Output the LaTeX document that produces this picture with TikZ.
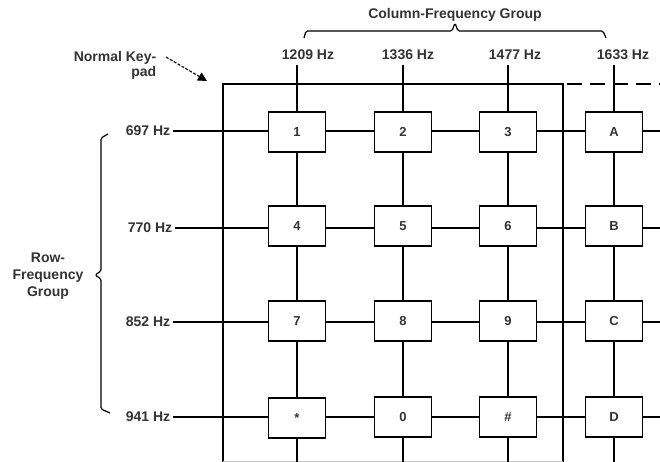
\documentclass[tikz,border=0pt]{standalone}
\usepackage{fontspec}
\setmainfont{Liberation Sans}
\usetikzlibrary{arrows.meta}
\begin{document}
\begin{tikzpicture}[x=1pt,y=-1pt,line width=1.5pt,
  lbl/.style={font=\fontsize{14}{15}\selectfont\bfseries,text=black!80,inner sep=0pt},
  rowlbl/.style={lbl,anchor=east,inner xsep=2pt},
  key/.style={draw,line width=1.5pt,minimum width=57pt,minimum height=40pt,inner sep=0pt,fill=white,
    font=\fontsize{13}{13}\selectfont\bfseries,text=black!80},
  wire/.style={line width=1.5pt},
  brace/.style={line width=1.2pt,rounded corners=1.5pt}]
\useasboundingbox (0,0) rectangle (660,462);

% titles
\node[lbl] (cfg) at (455,15) {Column-Frequency Group};
\node[lbl,align=center,font=\fontsize{14}{17}\selectfont\bfseries] (rfg) at (48,276) {Row-\\Frequency\\Group};
\node[lbl,align=right,anchor=east] (nk) at (157,65.5) {Normal Key-\\pad};

% braces
\draw[brace] (304,38) -- (306,31) -- (452,31) -- (455,23) -- (458,31) -- (603,31) -- (606,38);
\draw[brace] (108,134) -- (101,138) -- (101,271) -- (95,275) -- (101,279) -- (101,409) -- (110,413);

% arrow
\coordinate (as) at (166,57);
\coordinate (ae) at (207,81);
\draw[line width=1.1pt,dash pattern=on 3pt off 1.5pt,-{Triangle[length=9pt,width=9pt]}] (as) -- (ae);

% keypad outline
\draw[wire] (223,470) -- (223,84) -- (563,84) -- (563,470);
\draw[wire,dash pattern=on 15pt off 8pt] (567,84) -- (662,84);
\draw[black!22,line width=1pt] (223,461) -- (563,461);

% column labels
\node[lbl] (c1) at (308,55) {1209 Hz};
\node[lbl] (c2) at (408,55) {1336 Hz};
\node[lbl] (c3) at (515,55) {1477 Hz};
\node[lbl] (c4) at (623,55) {1633 Hz};

% row labels
\node[rowlbl] (r1) at (173,131) {697 Hz};
\node[rowlbl] (r2) at (175,228) {770 Hz};
\node[rowlbl] (r3) at (173,322) {852 Hz};
\node[rowlbl] (r4) at (173,417) {941 Hz};

% keys
\node[key] (k11) at (297,132) {1};
\node[key] (k12) at (403,132) {2};
\node[key] (k13) at (508,132) {3};
\node[key] (k14) at (614,132) {A};
\node[key] (k21) at (297,226) {4};
\node[key] (k22) at (403,226) {5};
\node[key] (k23) at (508,226) {6};
\node[key] (k24) at (614,226) {B};
\node[key] (k31) at (297,321) {7};
\node[key] (k32) at (403,321) {8};
\node[key] (k33) at (508,321) {9};
\node[key] (k34) at (614,321) {C};
\node[key] (k41) at (297,418) {*};
\node[key] (k42) at (403,417) {0};
\node[key] (k43) at (508,417) {\#};
\node[key] (k44) at (614,417) {D};

% right and bottom free ends
\foreach \r/\y in {1/131,2/228,3/322,4/417}{\coordinate (e\r) at (662,\y);}
\foreach \c/\x in {1/297,2/403,3/508,4/614}{
  \coordinate (t\c) at (\x,65);
  \coordinate (b\c) at (\x,464);}

% row wires
\foreach \r in {1,2,3,4}{
  \draw[wire] (r\r.east) -- (k\r1.west |- r\r.east);
  \draw[wire] (k\r1.east |- r\r.east) -- (k\r2.west |- r\r.east);
  \draw[wire] (k\r2.east |- r\r.east) -- (k\r3.west |- r\r.east);
  \draw[wire] (k\r3.east |- r\r.east) -- (k\r4.west |- r\r.east);
  \draw[wire] (k\r4.east |- r\r.east) -- (e\r);
}
% column wires
\foreach \c in {1,2,3,4}{
  \draw[wire] (t\c) -- (k1\c.north);
  \draw[wire] (k1\c.south) -- (k2\c.north);
  \draw[wire] (k2\c.south) -- (k3\c.north);
  \draw[wire] (k3\c.south) -- (k4\c.north);
  \draw[wire] (k4\c.south) -- (b\c);
}
\end{tikzpicture}
\end{document}
